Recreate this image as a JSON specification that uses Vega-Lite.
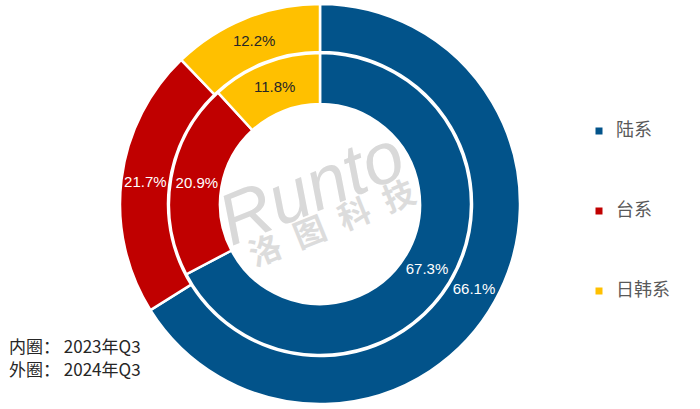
{
  "$schema": "https://vega.github.io/schema/vega-lite/v6.json",
  "width": 640,
  "height": 408,
  "autosize": {"type": "none"},
  "padding": {"left": 0, "top": 0, "right": 60, "bottom": 1},
  "background": "white",
  "config": {"view": {"stroke": null}},
  "title": {
    "text": ["内圈： 2023年Q3", "外圈： 2024年Q3"],
    "orient": "bottom",
    "anchor": "start",
    "frame": "group",
    "font": "Noto Sans CJK SC",
    "fontSize": 17,
    "fontWeight": "normal",
    "color": "#262626",
    "lineHeight": 23,
    "baseline": "top",
    "offset": 0,
    "dx": 9,
    "dy": -69
  },
  "data": {
    "values": [
      {"ring": "外圈", "category": "陆系", "value": 0.661},
      {"ring": "外圈", "category": "台系", "value": 0.217},
      {"ring": "外圈", "category": "日韩系", "value": 0.122},
      {"ring": "内圈", "category": "陆系", "value": 0.673},
      {"ring": "内圈", "category": "台系", "value": 0.209},
      {"ring": "内圈", "category": "日韩系", "value": 0.118}
    ]
  },
  "resolve": {"scale": {"color": "independent"}, "legend": {"color": "independent"}},
  "layer": [
    {
      "layer": [
        {
          "transform": [{"filter": "datum.ring === '外圈'"}],
          "mark": {"type": "arc", "radius": 200, "radius2": 152, "stroke": "white", "strokeWidth": 2.5},
          "encoding": {
            "theta": {"field": "value", "type": "quantitative", "stack": true},
            "order": {"field": "value", "type": "quantitative", "sort": "descending"},
            "color": {
              "field": "category",
              "type": "nominal",
              "sort": ["陆系", "台系", "日韩系"],
              "scale": {"domain": ["陆系", "台系", "日韩系"], "range": ["#02538A", "#C00000", "#FFC000"]},
              "legend": {
                "title": null,
                "orient": "none",
                "legendX": 590,
                "legendY": 122,
                "symbolType": "square",
                "symbolSize": 49,
                "symbolStrokeWidth": 0,
                "labelFont": "Noto Sans CJK SC",
                "labelFontSize": 18,
                "labelColor": "#595959",
                "labelOffset": 8,
                "rowPadding": 62
              }
            }
          }
        },
        {
          "transform": [{"filter": "datum.ring === '内圈'"}],
          "mark": {"type": "arc", "radius": 151, "radius2": 100, "stroke": "white", "strokeWidth": 2.5},
          "encoding": {
            "theta": {"field": "value", "type": "quantitative", "stack": true},
            "order": {"field": "value", "type": "quantitative", "sort": "descending"},
            "color": {
              "field": "category",
              "type": "nominal",
              "sort": ["陆系", "台系", "日韩系"],
              "legend": null
            }
          }
        },
        {
          "data": {"values": [{"t": "Runto"}]},
          "mark": {"type": "text", "font": "Liberation Sans", "fontSize": 72, "fontStyle": "italic", "color": "#d9d9d9", "angle": -22, "dy": -16, "dx": -2},
          "encoding": {"text": {"field": "t", "type": "nominal"}}
        },
        {
          "data": {"values": [{"t": "洛\u2002图\u2002科\u2002技"}]},
          "mark": {"type": "text", "font": "Noto Sans CJK SC", "fontSize": 32, "fontWeight": "bold", "color": "#dcdcdc", "angle": -22, "dy": 24, "dx": 4},
          "encoding": {"text": {"field": "t", "type": "nominal"}}
        }
      ]
    },
    {
      "layer": [
        {
          "transform": [{"filter": "datum.ring === '外圈'"}],
          "mark": {"type": "text", "radius": 176, "font": "Liberation Sans", "fontSize": 15},
          "encoding": {
            "theta": {"field": "value", "type": "quantitative", "stack": true},
            "order": {"field": "value", "type": "quantitative", "sort": "descending"},
            "text": {"field": "value", "type": "quantitative", "format": ".1%"},
            "color": {
              "field": "category",
              "type": "nominal",
              "sort": ["陆系", "台系", "日韩系"],
              "scale": {"domain": ["陆系", "台系", "日韩系"], "range": ["#ffffff", "#ffffff", "#262626"]},
              "legend": null
            }
          }
        },
        {
          "transform": [{"filter": "datum.ring === '内圈'"}],
          "mark": {"type": "text", "radius": 125, "font": "Liberation Sans", "fontSize": 15},
          "encoding": {
            "theta": {"field": "value", "type": "quantitative", "stack": true},
            "order": {"field": "value", "type": "quantitative", "sort": "descending"},
            "text": {"field": "value", "type": "quantitative", "format": ".1%"},
            "color": {
              "field": "category",
              "type": "nominal",
              "sort": ["陆系", "台系", "日韩系"],
              "legend": null
            }
          }
        }
      ]
    }
  ]
}
